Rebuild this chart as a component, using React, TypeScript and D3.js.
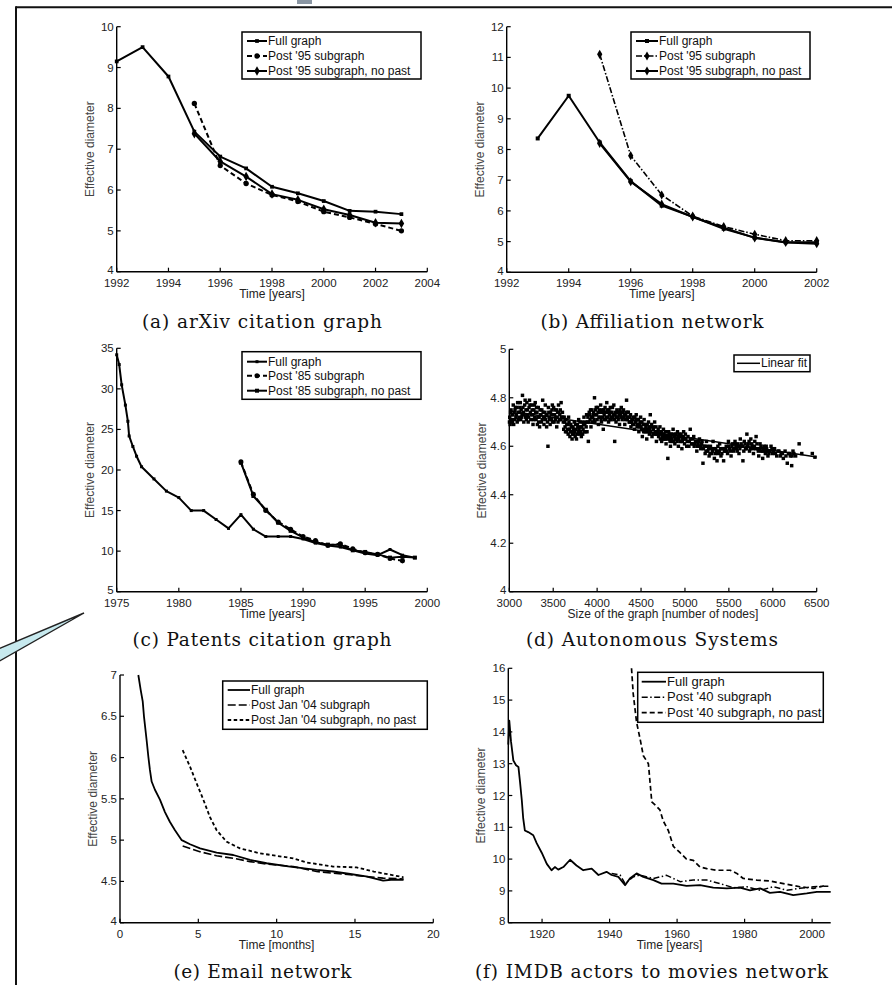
import React from "react";
import * as d3 from "d3";

type Pt = [number, number];

const SANS = "'Liberation Sans', Arial, Helvetica, sans-serif";
const SERIF = "'DejaVu Serif', 'Liberation Serif', serif";

// (a) arXiv citation graph
const arxivYears = [1992, 1993, 1994, 1995, 1996, 1997, 1998, 1999, 2000, 2001, 2002, 2003];
const arxivFull = [9.15, 9.5, 8.78, 7.43, 6.82, 6.53, 6.08, 5.92, 5.73, 5.49, 5.47, 5.41];
const arxivSubYears = [1995, 1996, 1997, 1998, 1999, 2000, 2001, 2002, 2003];
const arxivSub = [8.12, 6.6, 6.16, 5.88, 5.72, 5.47, 5.33, 5.17, 5.0];
const arxivNoPast = [7.38, 6.7, 6.33, 5.9, 5.76, 5.53, 5.39, 5.2, 5.18];
const arxivLegend = ["Full graph", "Post '95 subgraph", "Post '95 subgraph, no past"];

// (b) Affiliation network
const affYears = [1993, 1994, 1995, 1996, 1997, 1998, 1999, 2000, 2001, 2002];
const affFull = [8.36, 9.75, 8.23, 6.97, 6.17, 5.81, 5.42, 5.13, 4.98, 4.98];
const affSubYears = [1995, 1996, 1997, 1998, 1999, 2000, 2001, 2002];
const affSub = [11.1, 7.8, 6.52, 5.83, 5.49, 5.24, 5.03, 5.03];
const affNoPast = [8.2, 6.95, 6.22, 5.8, 5.45, 5.12, 4.97, 4.93];
const affLegend = ["Full graph", "Post '95 subgraph", "Post '95 subgraph, no past"];

// (c) Patents citation graph
const patYears = [1975, 1975.2, 1975.4, 1975.7, 1975.9, 1976, 1976.3, 1976.6, 1977, 1978, 1979, 1980, 1981, 1982, 1983, 1984, 1985, 1986, 1987, 1988, 1989, 1990, 1991, 1992, 1993, 1994, 1995, 1996, 1997, 1998, 1999];
const patFull = [34.2, 33.0, 30.5, 28.0, 26.0, 24.2, 22.9, 21.7, 20.4, 18.9, 17.4, 16.6, 15.0, 15.0, 13.9, 12.8, 14.5, 12.7, 11.8, 11.8, 11.8, 11.5, 11.0, 10.7, 10.5, 10.1, 9.7, 9.5, 10.2, 9.5, 9.2];
const patSubYears = [1985, 1986, 1987, 1988, 1989, 1990, 1991, 1992, 1993, 1994, 1995, 1996, 1997, 1998];
const patSub = [21.0, 17.0, 15.0, 13.6, 12.7, 11.8, 11.3, 10.7, 10.9, 10.3, 9.8, 9.6, 9.1, 8.8];
const patNoPastYears = [1985, 1986, 1987, 1988, 1989, 1990, 1991, 1992, 1993, 1994, 1995, 1996, 1997, 1998, 1999];
const patNoPast = [20.9, 16.8, 15.1, 13.5, 12.5, 11.7, 11.1, 10.8, 10.8, 10.1, 9.9, 9.6, 9.2, 9.3, 9.2];
const patLegend = ["Full graph", "Post '85 subgraph", "Post '85 subgraph, no past"];

// (d) Autonomous Systems: [nodes, effective diameter]
const asPoints: Pt[] = [
  [3005,4.72],[3010,4.69],[3020,4.75],[3030,4.73],[3035,4.70],[3045,4.77],[3055,4.74],[3060,4.71],[3070,4.76],[3080,4.73],
  [3090,4.70],[3095,4.78],[3105,4.74],[3110,4.72],[3120,4.76],[3130,4.71],[3135,4.75],[3145,4.73],[3150,4.81],[3160,4.74],
  [3165,4.70],[3175,4.77],[3185,4.72],[3190,4.75],[3200,4.78],[3210,4.73],[3215,4.70],[3225,4.76],[3230,4.79],[3240,4.74],
  [3245,4.71],[3255,4.77],[3265,4.73],[3270,4.69],[3280,4.75],[3290,4.72],[3295,4.78],[3305,4.71],[3315,4.74],[3320,4.69],
  [3330,4.76],[3340,4.72],[3345,4.68],[3355,4.73],[3365,4.70],[3370,4.75],[3380,4.79],[3390,4.72],[3395,4.69],[3405,4.74],
  [3415,4.71],[3425,4.68],[3430,4.73],[3440,4.60],[3445,4.76],[3455,4.72],[3465,4.69],[3470,4.74],[3480,4.71],[3490,4.77],
  [3500,4.73],[3510,4.70],[3520,4.75],[3530,4.72],[3540,4.68],[3550,4.74],[3560,4.77],[3570,4.71],[3580,4.75],[3590,4.78],
  [3595,4.72],[3605,4.74],[3615,4.70],[3625,4.72],[3635,4.68],[3645,4.71],[3650,4.66],[3660,4.69],[3670,4.65],[3675,4.72],
  [3685,4.67],[3690,4.64],[3700,4.69],[3710,4.66],[3715,4.63],[3725,4.68],[3735,4.65],[3740,4.70],[3750,4.64],[3760,4.67],
  [3765,4.63],[3775,4.69],[3785,4.66],[3790,4.71],[3800,4.65],[3810,4.68],[3820,4.64],[3830,4.70],[3840,4.67],[3850,4.72],
  [3860,4.69],[3870,4.66],[3880,4.73],[3890,4.70],[3900,4.62],[3910,4.74],[3920,4.71],[3930,4.68],[3940,4.75],[3950,4.72],
  [3960,4.74],[3970,4.80],[3975,4.70],[3985,4.73],[3990,4.76],[4000,4.71],[4010,4.74],[4015,4.69],[4025,4.75],[4035,4.72],
  [4040,4.77],[4050,4.70],[4060,4.74],[4070,4.67],[4080,4.73],[4090,4.76],[4100,4.71],[4110,4.78],[4120,4.74],[4130,4.70],
  [4140,4.73],[4150,4.76],[4160,4.71],[4170,4.74],[4180,4.72],[4190,4.77],[4200,4.62],[4205,4.73],[4215,4.70],[4225,4.75],
  [4235,4.72],[4245,4.74],[4255,4.69],[4265,4.73],[4275,4.76],[4285,4.71],[4295,4.74],[4305,4.72],[4315,4.69],[4325,4.73],
  [4335,4.79],[4345,4.71],[4355,4.74],[4365,4.70],[4375,4.72],[4385,4.68],[4395,4.71],[4405,4.69],[4415,4.72],[4425,4.67],
  [4435,4.70],[4445,4.73],[4455,4.68],[4465,4.71],[4475,4.66],[4485,4.69],[4495,4.72],[4505,4.67],[4515,4.64],[4525,4.69],
  [4535,4.71],[4545,4.66],[4555,4.68],[4565,4.63],[4575,4.67],[4585,4.70],[4595,4.65],[4605,4.73],[4615,4.68],[4625,4.64],
  [4640,4.67],[4655,4.70],[4665,4.65],[4675,4.62],[4690,4.66],[4700,4.64],[4715,4.68],[4725,4.66],[4735,4.62],[4745,4.65],
  [4755,4.67],[4765,4.63],[4775,4.66],[4785,4.61],[4795,4.64],[4805,4.55],[4815,4.66],[4825,4.63],[4835,4.60],[4845,4.65],
  [4855,4.62],[4865,4.67],[4875,4.64],[4885,4.61],[4895,4.65],[4905,4.63],[4915,4.66],[4925,4.60],[4935,4.64],[4945,4.62],
  [4955,4.65],[4965,4.59],[4975,4.63],[4985,4.66],[4995,4.61],[5010,4.63],[5020,4.60],[5035,4.64],[5050,4.62],[5060,4.67],
  [5075,4.61],[5090,4.63],[5105,4.60],[5120,4.62],[5135,4.58],[5150,4.61],[5165,4.63],[5180,4.59],[5195,4.62],[5205,4.53],
  [5215,4.60],[5230,4.57],[5245,4.62],[5260,4.58],[5275,4.56],[5290,4.60],[5305,4.57],[5320,4.62],[5335,4.55],[5350,4.59],
  [5365,4.54],[5380,4.57],[5395,4.61],[5410,4.56],[5425,4.59],[5440,4.54],[5455,4.58],[5470,4.60],[5485,4.57],[5495,4.62],
  [5510,4.59],[5525,4.56],[5540,4.61],[5555,4.58],[5570,4.62],[5585,4.59],[5600,4.61],[5615,4.57],[5630,4.63],[5645,4.60],
  [5660,4.54],[5675,4.62],[5690,4.59],[5705,4.65],[5720,4.61],[5735,4.58],[5750,4.63],[5765,4.60],[5780,4.57],[5795,4.62],
  [5810,4.64],[5825,4.59],[5840,4.56],[5855,4.61],[5870,4.58],[5885,4.55],[5900,4.60],[5915,4.57],[5930,4.59],[5945,4.56],
  [5960,4.58],[5980,4.60],[5995,4.57],[6020,4.59],[6045,4.56],[6070,4.58],[6095,4.57],[6120,4.55],[6140,4.58],[6165,4.53],
  [6180,4.57],[6200,4.56],[6215,4.52],[6230,4.58],[6260,4.56],[6300,4.61],[6330,4.57],[6450,4.57],[6480,4.555],
  [3002,4.70],[3015,4.74],[3025,4.71],[3040,4.73],[3050,4.69],[3065,4.75],[3075,4.72],[3085,4.76],[3100,4.71],[3115,4.74],
  [3125,4.78],[3140,4.72],[3155,4.76],[3170,4.73],[3180,4.79],[3195,4.71],[3205,4.75],[3220,4.72],[3235,4.77],[3250,4.73],
  [3260,4.75],[3275,4.71],[3285,4.77],[3300,4.74],[3310,4.76],[3325,4.72],[3335,4.70],[3350,4.75],[3360,4.73],[3375,4.71],
  [3385,4.74],[3400,4.72],[3410,4.77],[3420,4.73],[3435,4.70],[3450,4.74],[3460,4.71],[3475,4.73],[3485,4.75],[3495,4.70],
  [3505,4.76],[3515,4.73],[3525,4.71],[3535,4.75],[3545,4.72],[3555,4.70],[3565,4.74],[3575,4.73],[3585,4.71],[3610,4.72],
  [3620,4.67],[3630,4.70],[3640,4.66],[3655,4.69],[3665,4.67],[3680,4.70],[3695,4.66],[3705,4.68],[3720,4.65],[3730,4.67],
  [3745,4.66],[3755,4.69],[3770,4.65],[3780,4.68],[3795,4.67],[3805,4.70],[3815,4.66],[3825,4.68],[3835,4.65],[3845,4.69],
  [3855,4.66],[3865,4.70],[3875,4.68],[3885,4.66],[3895,4.72],[3905,4.70],[3915,4.73],[3925,4.75],[3935,4.72],[3945,4.70],
  [3955,4.73],[3965,4.71],[3980,4.75],[3995,4.73],[4005,4.76],[4020,4.72],[4030,4.74],[4045,4.71],[4055,4.75],[4065,4.72],
  [4075,4.75],[4085,4.71],[4095,4.74],[4105,4.72],[4115,4.75],[4125,4.72],[4135,4.75],[4145,4.71],[4155,4.74],[4165,4.72],
  [4175,4.76],[4185,4.73],[4195,4.71],[4210,4.74],[4220,4.72],[4230,4.74],[4240,4.71],[4250,4.73],[4260,4.75],[4270,4.72],
  [4280,4.74],[4290,4.72],[4300,4.75],[4310,4.73],[4320,4.71],[4330,4.74],[4340,4.72],[4350,4.74],[4360,4.72],[4370,4.70],
  [4380,4.73],[4390,4.70],[4410,4.71],[4420,4.69],[4430,4.72],[4440,4.70],[4450,4.71],[4460,4.69],[4470,4.71],[4480,4.68],
  [4490,4.70],[4500,4.68],[4510,4.70],[4520,4.67],[4530,4.66],[4540,4.69],[4550,4.67],[4560,4.66],[4570,4.69],[4580,4.66],
  [4590,4.68],[4600,4.67],[4610,4.66],[4620,4.69],[4635,4.65],[4645,4.68],[4660,4.66],[4670,4.68],[4680,4.65],[4695,4.67],
  [4710,4.65],[4720,4.63],[4730,4.66],[4740,4.64],[4750,4.63],[4760,4.65],[4770,4.64],[4780,4.63],[4790,4.66],[4800,4.63],
  [4810,4.64],[4820,4.65],[4830,4.62],[4840,4.64],[4850,4.63],[4860,4.65],[4870,4.62],[4880,4.64],[4890,4.63],[4900,4.65],
  [4910,4.62],[4920,4.64],[4930,4.63],[4940,4.65],[4950,4.62],[4960,4.64],[4970,4.62],[4980,4.64],[4990,4.63],[5005,4.65],
  [5025,4.62],[5045,4.60],[5065,4.63],[5085,4.61],[5100,4.64],[5115,4.61],[5130,4.62],[5145,4.60],[5160,4.62],[5175,4.60],
  [5190,4.61],[5210,4.59],[5225,4.60],[5240,4.58],[5255,4.60],[5270,4.59],[5285,4.57],[5300,4.59],[5315,4.58],[5330,4.59],
  [5345,4.57],[5360,4.58],[5375,4.60],[5390,4.58],[5405,4.59],[5420,4.57],[5435,4.59],[5450,4.58],[5465,4.59],[5480,4.58],
  [5500,4.60],[5520,4.58],[5535,4.60],[5550,4.59],[5565,4.61],[5580,4.60],[5595,4.58],[5610,4.60],[5625,4.59],[5640,4.61],
  [5655,4.60],[5670,4.58],[5685,4.61],[5700,4.59],[5715,4.60],[5730,4.62],[5745,4.59],[5760,4.61],[5775,4.59],[5790,4.60],
  [5805,4.59],[5820,4.61],[5835,4.58],[5850,4.59],[5865,4.60],[5880,4.58],[5895,4.59],[5910,4.58],[5925,4.60],[5940,4.58],
  [5955,4.57],[5970,4.58],[5990,4.59],[6010,4.58],[6030,4.57],[6060,4.58],[6085,4.56],[6110,4.57],[6150,4.56],[6190,4.57],
  [6220,4.56],[6240,4.57],
];
const asFitNodes = [3000, 6500];
const asFitDiam = [4.745, 4.556];
const asLegend = ["Linear fit"];

// (e) Email network: [months, effective diameter]
const emailFull: Pt[] = [[1.17,7.0],[1.32,6.82],[1.45,6.68],[1.53,6.5],[1.7,6.21],[1.81,6.01],[1.91,5.85],[2.02,5.71],[2.23,5.61],[2.55,5.49],[2.87,5.34],[3.19,5.22],[3.51,5.12],[3.94,5.0],[4.47,4.95],[5.11,4.9],[6.17,4.85],[7.23,4.82],[8.3,4.76],[9.36,4.72],[10.85,4.68],[12.55,4.64],[13.6,4.62],[14.7,4.59],[15.7,4.56],[16.8,4.51],[17.3,4.52],[18.1,4.52]];
const emailSub: Pt[] = [[4.0,4.93],[5.1,4.86],[6.17,4.81],[7.23,4.78],[8.3,4.74],[9.36,4.71],[11.06,4.68],[12.55,4.62],[13.6,4.6],[14.7,4.58],[15.7,4.56],[16.8,4.54],[18.1,4.53]];
const emailNoPast: Pt[] = [[4.0,6.09],[4.47,5.89],[4.89,5.69],[5.32,5.49],[5.74,5.28],[6.17,5.12],[6.81,4.98],[7.66,4.9],[8.94,4.84],[11.06,4.78],[11.9,4.73],[13.6,4.68],[15.1,4.67],[16.2,4.62],[18.1,4.55]];
const emailLegend = ["Full graph", "Post Jan '04 subgraph", "Post Jan '04 subgraph, no past"];

// (f) IMDB actors to movies network: [year, effective diameter]
const imdbFull: Pt[] = [[1910.0,13.6],[1910.3,14.35],[1910.8,13.7],[1911.5,13.1],[1912.3,12.95],[1913.0,12.9],[1913.5,12.4],[1914.0,11.85],[1914.4,11.3],[1914.9,10.9],[1915.9,10.85],[1917.4,10.75],[1918.4,10.5],[1919.9,10.2],[1921.4,9.85],[1922.8,9.65],[1923.8,9.75],[1924.8,9.67],[1926.3,9.75],[1928.3,9.98],[1930.2,9.8],[1932.2,9.65],[1934.7,9.7],[1936.7,9.5],[1939.1,9.6],[1940.6,9.5],[1942.6,9.44],[1944.6,9.18],[1946.0,9.39],[1948.0,9.55],[1950.0,9.44],[1953.0,9.34],[1955.4,9.23],[1958.9,9.23],[1962.8,9.16],[1966.8,9.18],[1970.7,9.1],[1974.7,9.08],[1978.6,9.1],[1981.6,9.02],[1984.6,9.08],[1987.5,8.94],[1990.5,8.97],[1994.4,8.87],[1998.4,8.92],[2001.4,8.97],[2005.5,8.97]];
const imdbSub: Pt[] = [[1940.6,9.55],[1943.1,9.5],[1944.6,9.23],[1947.0,9.44],[1949.0,9.5],[1953.0,9.39],[1956.9,9.49],[1960.9,9.29],[1964.8,9.34],[1968.8,9.34],[1972.7,9.23],[1976.7,9.1],[1980.6,9.13],[1984.6,9.02],[1988.5,9.13],[1992.5,9.02],[1996.4,9.08],[2000.4,9.13],[2004.8,9.15]];
const imdbNoPast: Pt[] = [[1946.5,16.0],[1947.0,15.2],[1948.0,14.3],[1949.0,13.8],[1950.0,13.25],[1951.5,13.0],[1952.0,12.4],[1952.5,11.8],[1954.0,11.65],[1954.9,11.55],[1955.9,11.2],[1957.4,10.9],[1958.9,10.4],[1960.9,10.2],[1962.8,10.0],[1964.8,9.96],[1966.8,9.75],[1968.8,9.7],[1971.7,9.65],[1975.7,9.65],[1977.7,9.55],[1979.6,9.39],[1983.6,9.34],[1987.5,9.31],[1991.5,9.23],[1996.4,9.13],[2000.4,9.08],[2004.3,9.18]];
const imdbLegend = ["Full graph", "Post '40 subgraph", "Post '40 subgraph, no past"];

const zip = (xs: number[], ys: number[]): Pt[] => xs.map((v, i) => [v, ys[i]]);

type SeriesCfg = {
  pts: Pt[];
  dash?: string;
  marker?: d3.SymbolType;
  msize?: number;
  width?: number;
  scatter?: boolean;
};

type PanelCfg = {
  left: number; right: number; top: number; bottom: number;
  xDomain: [number, number]; yDomain: [number, number];
  xTicks: number[]; yTicks: number[];
  xLabel: string; yLabel: string;
  series: SeriesCfg[];
  legend: { x: number; y: number; w: number; h: number; rows: number[]; sx0: number; sx1: number; font: number; labels: string[]; refs: number[] };
  caption: string; capX: number; capY: number; capW: number;
};

function Panel({ p }: { p: PanelCfg }) {
  const x = d3.scaleLinear().domain(p.xDomain).range([p.left, p.right]);
  const y = d3.scaleLinear().domain(p.yDomain).range([p.bottom, p.top]);
  const line = d3.line<Pt>().x(d => x(d[0])).y(d => y(d[1]));
  const fmt = d3.format("~g");
  const tk = 4;
  const lg = p.legend;
  const midY = (p.top + p.bottom) / 2;
  const midX = (p.left + p.right) / 2;
  return (
    <g>
      {p.series.map((s, i) => {
        const sym = s.marker ? d3.symbol().type(s.marker).size(s.msize ?? 16)() ?? "" : "";
        return (
          <g key={i}>
            {!s.scatter && (
              <path d={line(s.pts) ?? ""} fill="none" stroke="#000" strokeWidth={s.width ?? 2}
                strokeDasharray={s.dash} strokeLinejoin="round" />
            )}
            {s.marker && s.pts.map((d, j) => (
              <path key={j} transform={`translate(${x(d[0])},${y(d[1])})`} d={sym} fill="#000" />
            ))}
          </g>
        );
      })}
      <line x1={p.left} y1={p.bottom} x2={p.right} y2={p.bottom} stroke="#000" strokeWidth={1.4} />
      <line x1={p.left} y1={p.bottom} x2={p.left} y2={p.top} stroke="#000" strokeWidth={1.4} />
      {p.xTicks.map(t => (
        <g key={"x" + t}>
          <line x1={x(t)} x2={x(t)} y1={p.bottom} y2={p.bottom - tk} stroke="#000" strokeWidth={1.2} />
          <text x={x(t)} y={p.bottom + 14.8} textAnchor="middle" fontSize={11.5} fontFamily={SANS} fill="#222">{fmt(t)}</text>
        </g>
      ))}
      {p.yTicks.map(t => (
        <g key={"y" + t}>
          <line x1={p.left} x2={p.left + tk} y1={y(t)} y2={y(t)} stroke="#000" strokeWidth={1.2} />
          <text x={p.left - 3} y={y(t) + (t === p.yDomain[0] ? 2.5 : 4)} textAnchor="end" fontSize={11.5}
            fontFamily={SANS} fill="#222">{fmt(t)}</text>
        </g>
      ))}
      <text x={midX} y={p.bottom + 26} textAnchor="middle" fontSize={12} fontFamily={SANS} fill="#222">{p.xLabel}</text>
      <text transform={`translate(${p.left - 23},${midY}) rotate(-90)`} textAnchor="middle" fontSize={12}
        fontFamily={SANS} fill="#444">{p.yLabel}</text>
      <rect x={lg.x} y={lg.y} width={lg.w} height={lg.h} fill="#fff" stroke="#000" strokeWidth={1.5} />
      {lg.labels.map((lab, i) => {
        const s = p.series[lg.refs[i]];
        const ry = lg.rows[i];
        const sym = s.marker ? d3.symbol().type(s.marker).size(s.msize ?? 16)() ?? "" : "";
        return (
          <g key={"l" + i}>
            <line x1={lg.sx0} x2={lg.sx1} y1={ry} y2={ry} stroke="#000" strokeWidth={s.width ?? 2} strokeDasharray={s.dash} />
            {s.marker && !s.scatter && <path transform={`translate(${(lg.sx0 + lg.sx1) / 2},${ry})`} d={sym} fill="#000" />}
            <text x={lg.sx1 + 1} y={ry + 4} fontSize={lg.font} fontFamily={SANS} fill="#111">{lab}</text>
          </g>
        );
      })}
      <text x={p.capX} y={p.capY} textAnchor="middle" fontSize={18.5} fontFamily={SERIF} fill="#111"
        textLength={p.capW} lengthAdjust="spacing">{p.caption}</text>
    </g>
  );
}

export default function App() {
  const yl = "Effective diameter";
  const panels: PanelCfg[] = [
    {
      left: 116.7, right: 427.3, top: 26.7, bottom: 271.7,
      xDomain: [1992, 2004], yDomain: [4, 10],
      xTicks: d3.range(1992, 2005, 2), yTicks: d3.range(4, 11, 1),
      xLabel: "Time [years]", yLabel: yl,
      series: [
        { pts: zip(arxivYears, arxivFull), marker: d3.symbolSquare, msize: 14 },
        { pts: zip(arxivSubYears, arxivSub), dash: "5,3", marker: d3.symbolCircle, msize: 22 },
        { pts: zip(arxivSubYears, arxivNoPast), marker: d3.symbolDiamond, msize: 26 },
      ],
      legend: { x: 242, y: 32, w: 179, h: 47, rows: [41, 56, 71], sx0: 247, sx1: 267, font: 12, labels: arxivLegend, refs: [0, 1, 2] },
      caption: "(a) arXiv citation graph", capX: 262, capY: 328, capW: 240,
    },
    {
      left: 506.7, right: 816.7, top: 26.7, bottom: 272.3,
      xDomain: [1992, 2002], yDomain: [4, 12],
      xTicks: d3.range(1992, 2003, 2), yTicks: d3.range(4, 13, 1),
      xLabel: "Time [years]", yLabel: yl,
      series: [
        { pts: zip(affYears, affFull), marker: d3.symbolSquare, msize: 16 },
        { pts: zip(affSubYears, affSub), dash: "6,2,1.5,2", marker: d3.symbolDiamond, msize: 24, width: 1.6 },
        { pts: zip(affSubYears, affNoPast), marker: d3.symbolDiamond, msize: 24 },
      ],
      legend: { x: 631, y: 32, w: 179, h: 47, rows: [41, 56, 71], sx0: 636, sx1: 658, font: 12, labels: affLegend, refs: [0, 1, 2] },
      caption: "(b) Affiliation network", capX: 652, capY: 328, capW: 223,
    },
    {
      left: 116.7, right: 427.3, top: 348.3, bottom: 591.7,
      xDomain: [1975, 2000], yDomain: [5, 35],
      xTicks: d3.range(1975, 2001, 5), yTicks: d3.range(5, 36, 5),
      xLabel: "Time [years]", yLabel: yl,
      series: [
        { pts: zip(patYears, patFull), marker: d3.symbolSquare, msize: 9 },
        { pts: zip(patSubYears, patSub), dash: "5,3", marker: d3.symbolCircle, msize: 20 },
        { pts: zip(patNoPastYears, patNoPast), marker: d3.symbolSquare, msize: 16 },
      ],
      legend: { x: 242, y: 351.7, w: 179, h: 47.6, rows: [361.7, 375.7, 390.7], sx0: 247, sx1: 267, font: 12, labels: patLegend, refs: [0, 1, 2] },
      caption: "(c) Patents citation graph", capX: 262, capY: 646, capW: 259,
    },
    {
      left: 509.3, right: 816.7, top: 349.3, bottom: 591.7,
      xDomain: [3000, 6500], yDomain: [4, 5],
      xTicks: d3.range(3000, 6501, 500), yTicks: [4, 4.2, 4.4, 4.6, 4.8, 5],
      xLabel: "Size of the graph [number of nodes]", yLabel: yl,
      series: [
        { pts: asPoints, scatter: true, marker: d3.symbolSquare, msize: 12 },
        { pts: zip(asFitNodes, asFitDiam), width: 1.5 },
      ],
      legend: { x: 734, y: 355, w: 76, h: 16.7, rows: [363.3], sx0: 737, sx1: 760, font: 12, labels: asLegend, refs: [1] },
      caption: "(d) Autonomous Systems", capX: 652, capY: 646, capW: 252,
    },
    {
      left: 120, right: 433.3, top: 675, bottom: 922.7,
      xDomain: [0, 20], yDomain: [4, 7],
      xTicks: [0, 5, 10, 15, 20], yTicks: [4, 4.5, 5, 5.5, 6, 6.5, 7],
      xLabel: "Time [months]", yLabel: yl,
      series: [
        { pts: emailFull, width: 1.8 },
        { pts: emailSub, dash: "8,3", width: 1.6 },
        { pts: emailNoPast, dash: "3.5,2.5", width: 1.8 },
      ],
      legend: { x: 222.7, y: 681, w: 204.6, h: 48.3, rows: [690, 705, 720], sx0: 227.7, sx1: 250, font: 12, labels: emailLegend, refs: [0, 1, 2] },
      caption: "(e) Email network", capX: 262.5, capY: 978, capW: 178,
    },
    {
      left: 508.3, right: 830.7, top: 668.3, bottom: 922.7,
      xDomain: [1910, 2005.5], yDomain: [8, 16],
      xTicks: [1920, 1940, 1960, 1980, 2000], yTicks: d3.range(8, 17, 1),
      xLabel: "Time [years]", yLabel: yl,
      series: [
        { pts: imdbFull, width: 1.8 },
        { pts: imdbSub, dash: "6,2.5,1.5,2.5", width: 1.5 },
        { pts: imdbNoPast, dash: "5,3", width: 1.7 },
      ],
      legend: { x: 637.7, y: 672.3, w: 185.6, h: 50, rows: [681.7, 697.3, 712.7], sx0: 641.7, sx1: 666, font: 13, labels: imdbLegend, refs: [0, 1, 2] },
      caption: "(f) IMDB actors to movies network", capX: 651.5, capY: 978, capW: 353,
    },
  ];

  return (
    <>
      <style>{"body{margin:0;overflow:hidden}"}</style>
      <svg width={892} height={985} viewBox="0 0 892 985" style={{ position: "absolute", left: 0, top: 0, display: "block" }}>
        <rect width={892} height={985} fill="#fff" />
        <rect x={297} y={0} width={15} height={4} fill="#8a96a3" />
        <line x1={16} y1={7.3} x2={892} y2={7.3} stroke="#111" strokeWidth={2} />
        <line x1={16} y1={6.3} x2={16} y2={985} stroke="#111" strokeWidth={2} />
        <polygon points="84,613 -4,650 -4,663" fill="#c7e9ee" stroke="#222" strokeWidth={1.4} />
        {panels.map((p, i) => <Panel key={i} p={p} />)}
      </svg>
    </>
  );
}
